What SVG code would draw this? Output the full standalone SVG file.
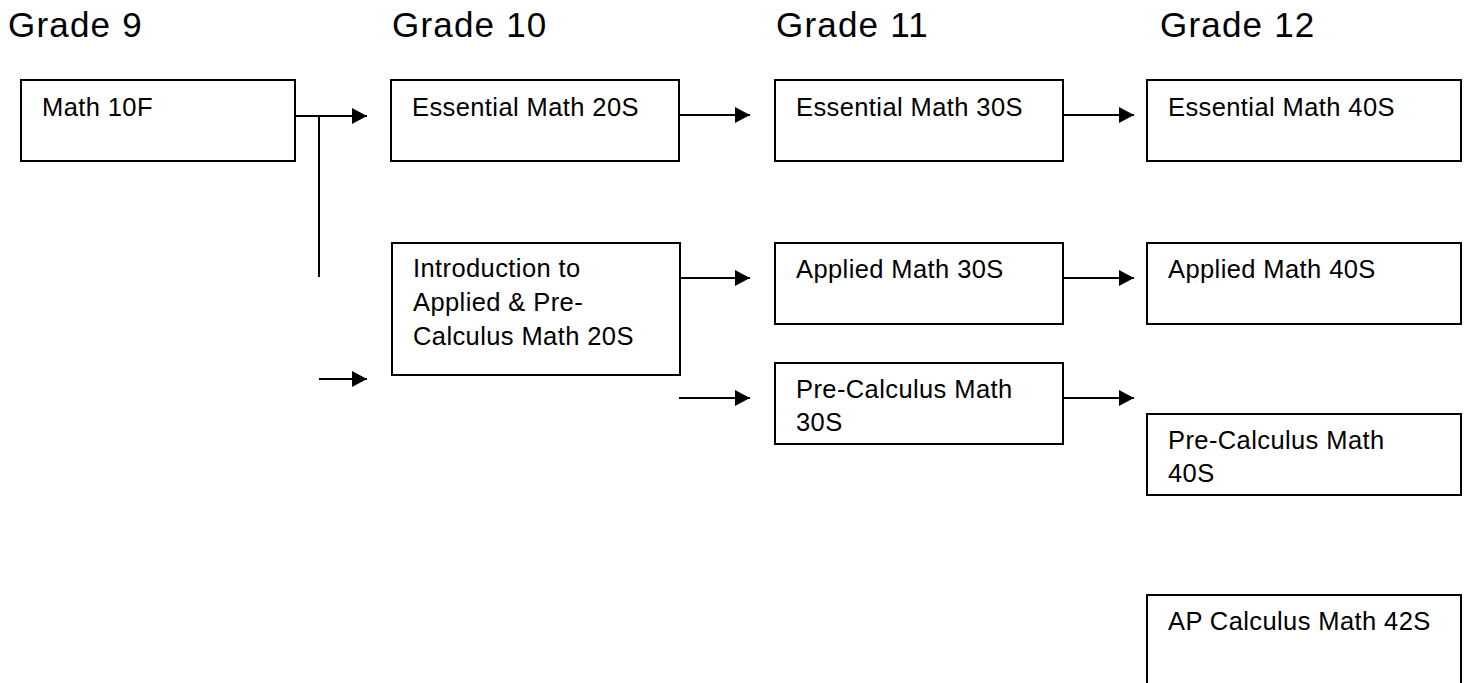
<svg xmlns="http://www.w3.org/2000/svg" width="1468" height="683" viewBox="0 0 1468 683">
<style>
.box{fill:#fff;stroke:#000;stroke-width:2}
.t{font-family:"Liberation Sans",Arial,sans-serif;font-size:25.5px;letter-spacing:0.4px;fill:#000}
.h{font-family:"Liberation Sans",Arial,sans-serif;font-size:35px;letter-spacing:1.2px;fill:#000}
.ln{stroke:#000;stroke-width:2;fill:none}
</style>
<defs>
<marker id="ah" markerUnits="userSpaceOnUse" markerWidth="16" markerHeight="17" refX="15" refY="8.5" orient="auto">
<path d="M0,0.5 L15,8.5 L0,16.5 Z" fill="#000"/>
</marker>
</defs>
<g id="headers">
<text class="h" x="8" y="37">Grade 9</text>
<text class="h" x="392" y="37">Grade 10</text>
<text class="h" x="776" y="37">Grade 11</text>
<text class="h" x="1160" y="37">Grade 12</text>
</g>
<g id="connectors">
<line class="ln" x1="295" y1="116" x2="367" y2="116" marker-end="url(#ah)"/>
<line class="ln" x1="319" y1="116" x2="319" y2="277"/>
<line class="ln" x1="319" y1="379" x2="367" y2="379" marker-end="url(#ah)"/>
<line class="ln" x1="679" y1="115" x2="750" y2="115" marker-end="url(#ah)"/>
<line class="ln" x1="1063" y1="115" x2="1134" y2="115" marker-end="url(#ah)"/>
<line class="ln" x1="680" y1="278" x2="750" y2="278" marker-end="url(#ah)"/>
<line class="ln" x1="679" y1="398" x2="750" y2="398" marker-end="url(#ah)"/>
<line class="ln" x1="1063" y1="278" x2="1134" y2="278" marker-end="url(#ah)"/>
<line class="ln" x1="1063" y1="398" x2="1134" y2="398" marker-end="url(#ah)"/>
</g>
<g id="math10f"><rect class="box" x="21" y="80" width="274" height="81"/><text class="t" x="42" y="116">Math 10F</text></g>
<g id="ess20s"><rect class="box" x="391" y="80" width="288" height="81"/><text class="t" x="412" y="116">Essential Math 20S</text></g>
<g id="ess30s"><rect class="box" x="775" y="80" width="288" height="81"/><text class="t" x="796" y="116">Essential Math 30S</text></g>
<g id="ess40s"><rect class="box" x="1147" y="80" width="314" height="81"/><text class="t" x="1168" y="116">Essential Math 40S</text></g>
<g id="intro20s"><rect class="box" x="392" y="243" width="288" height="132"/>
<text class="t" x="413" y="277">Introduction to</text>
<text class="t" x="413" y="311">Applied &amp; Pre-</text>
<text class="t" x="413" y="345">Calculus Math 20S</text></g>
<g id="app30s"><rect class="box" x="775" y="243" width="288" height="81"/><text class="t" x="796" y="278">Applied Math 30S</text></g>
<g id="pre30s"><rect class="box" x="775" y="363" width="288" height="81"/>
<text class="t" x="796" y="398">Pre-Calculus Math</text>
<text class="t" x="796" y="431">30S</text></g>
<g id="app40s"><rect class="box" x="1147" y="243" width="314" height="81"/><text class="t" x="1168" y="278">Applied Math 40S</text></g>
<g id="pre40s"><rect class="box" x="1147" y="414" width="314" height="81"/>
<text class="t" x="1168" y="449">Pre-Calculus Math</text>
<text class="t" x="1168" y="482">40S</text></g>
<g id="ap42s"><rect class="box" x="1147" y="595" width="314" height="110"/><text class="t" x="1168" y="630">AP Calculus Math 42S</text></g>
</svg>
